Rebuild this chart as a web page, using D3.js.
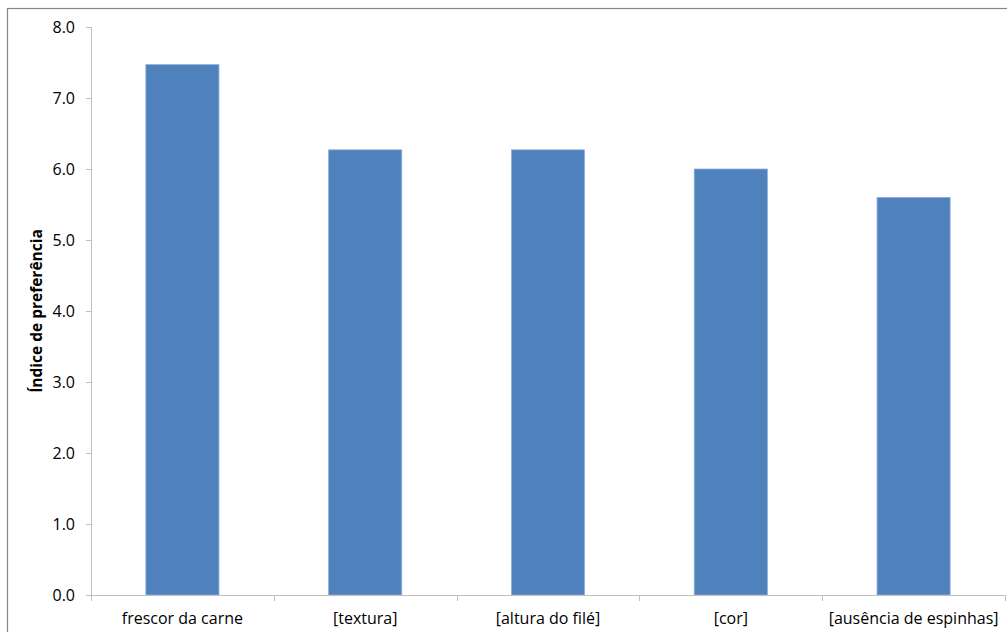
<html>
  <head>
    <meta charset="utf-8">
    <title>Índice de preferência</title>
    <script src="https://d3js.org/d3.v7.min.js"></script>
    <style>
      body { margin: 0; background: #fff; }
      svg text { font-family: "Open Sans", "Noto Sans", sans-serif; fill: #000; }
    </style>
  </head>
  <body>
    <svg id="chart" width="1007" height="632"></svg>
    <script>
    // data
    var categories = ["frescor da carne", "[textura]", "[altura do filé]", "[cor]", "[ausência de espinhas]"];
    var values = [7.47, 6.27, 6.27, 6.0, 5.6];
    var yTicks = [0, 1, 2, 3, 4, 5, 6, 7, 8];

    var svg = d3.select("#chart");

    // outer chart frame (runs past the right / bottom of the picture)
    svg.append("rect")
      .attr("x", 7.5).attr("y", 8.5)
      .attr("width", 1010).attr("height", 640)
      .attr("fill", "none")
      .attr("stroke", "#868686")
      .attr("stroke-width", 1.2);

    var plotLeft = 91, plotRight = 1005, plotTop = 27, plotBottom = 595;

    var sx = d3.scaleBand().domain(categories).range([plotLeft, plotRight]).paddingInner(0.6).paddingOuter(0.3);
    var sxEdge = d3.scaleBand().domain(categories).range([plotLeft, plotRight]);
    var sy = d3.scaleLinear().domain([0, 8]).range([plotBottom, plotTop]);

    // bars
    svg.append("g")
      .selectAll("rect")
      .data(values)
      .enter()
      .append("rect")
        .attr("x", function(d, i) { return sx(categories[i]); })
        .attr("y", function(d) { return sy(d); })
        .attr("width", sx.bandwidth())
        .attr("height", function(d) { return sy(0) - sy(d); })
        .attr("fill", "#4f81bd")
        .attr("stroke", "#8eaedb")
        .attr("stroke-width", 0.8);

    // y axis
    var gy = svg.append("g")
      .attr("transform", "translate(" + plotLeft + ",0)")
      .call(d3.axisLeft(sy).tickValues(yTicks).tickSize(5).tickPadding(11)
        .tickFormat(function(d) { return d3.format(".1f")(d); }));
    gy.select(".domain").attr("stroke", "#c0c0c0").attr("d", "M0.5," + plotTop + "V" + plotBottom);
    gy.selectAll(".tick line").attr("stroke", "#c0c0c0");
    gy.selectAll(".tick text").style("font-size", "16px").attr("fill", "#000");

    // x axis: ticks sit on the category boundaries
    var gx = svg.append("g")
      .attr("transform", "translate(0," + plotBottom + ")");
    gx.append("line")
      .attr("x1", plotLeft).attr("x2", plotRight)
      .attr("y1", 0.5).attr("y2", 0.5)
      .attr("stroke", "#c0c0c0");
    var edges = categories.map(function(c) { return sxEdge(c); }).concat([plotRight]);
    gx.selectAll(".edge")
      .data(edges)
      .enter()
      .append("line")
        .attr("x1", function(d) { return Math.round(d) + 0.5; })
        .attr("x2", function(d) { return Math.round(d) + 0.5; })
        .attr("y1", 0).attr("y2", 6)
        .attr("stroke", "#c0c0c0");
    gx.selectAll(".lab")
      .data(categories)
      .enter()
      .append("text")
        .attr("x", function(d) { return sxEdge(d) + sxEdge.bandwidth() / 2; })
        .attr("y", 29)
        .attr("text-anchor", "middle")
        .style("font-size", "16px")
        .text(function(d) { return d; });

    // y title
    svg.append("text")
      .attr("transform", "translate(42,311) rotate(-90)")
      .attr("text-anchor", "middle")
      .style("font-size", "15.5px")
      .style("font-weight", "bold")
      .text("Índice de preferência");
    </script>
  </body>
</html>
